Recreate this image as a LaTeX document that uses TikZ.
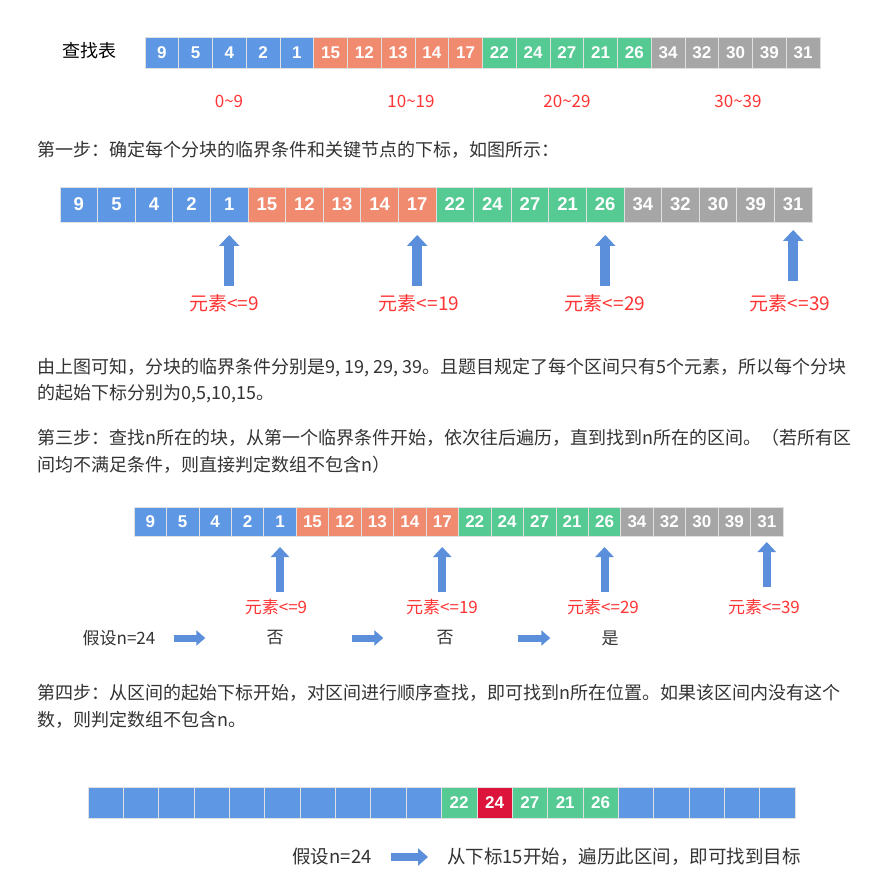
\documentclass[tikz,border=0pt]{standalone}
\usepackage{fontspec}
\setmainfont{Noto Sans CJK SC}
\newfontfamily\numfont{Liberation Sans}
\usetikzlibrary{arrows.meta, positioning}

\definecolor{blueC}{HTML}{5E97E4}
\definecolor{orangeC}{HTML}{F08B70}
\definecolor{greenC}{HTML}{56CA93}
\definecolor{grayC}{HTML}{A6A6A6}
\definecolor{redC}{HTML}{DC143C}
\definecolor{arrowC}{HTML}{5B8FDB}
\definecolor{labelC}{HTML}{FF3535}
\definecolor{textC}{HTML}{333333}

\begin{document}
\begin{tikzpicture}[x=1pt, y=-1pt]
		\tikzstyle{Cell} = [rectangle, inner sep=0pt, outer sep=0pt, draw=white!88!black, line width=0.7pt, text=white]
		\tikzstyle{Para} = [anchor=west, inner sep=0pt, text=textC, font=\fontsize{18}{18}\selectfont]
		\tikzstyle{Plain} = [inner sep=0pt, text=textC, font=\fontsize{17}{17}\selectfont]
		\tikzstyle{Bound} = [inner sep=0pt, text=labelC]
		\tikzstyle{UpArrow} = [line width=10pt, draw=arrowC, -{Triangle[width=20pt, length=11pt]}]
		\tikzstyle{SmallUp} = [line width=8pt, draw=arrowC, -{Triangle[width=18pt, length=10pt]}]
		\tikzstyle{SideArrow} = [line width=7pt, draw=arrowC, -{Triangle[width=15pt, length=9pt]}]

		\path[use as bounding box, fill=white] (0,0) rectangle (896,890);

		% lookup table, three times
		\foreach \r/\x/\y/\w/\h/\fs in {a/145/37/33.75/31/17, b/60/187/37.6/35/18.5, c/134/507/32.45/29/17}{
			\foreach \c/\vals [count=\k] in {blueC/{9,5,4,2,1}, orangeC/{15,12,13,14,17}, greenC/{22,24,27,21,26}, grayC/{34,32,30,39,31}}{
				\foreach \v [count=\j] in \vals{
					\pgfmathtruncatemacro\n{(\k-1)*5+\j}
					\node (\r\n) [Cell, fill=\c, minimum width=\w pt, minimum height=\h pt, font=\numfont\bfseries\fontsize{\fs}{\fs}\selectfont] at ({\x+(\n-0.5)*\w}, {\y+\h/2}) {\v};
				}
			}
		}

		\node (title) [Para, text=black] at (62,51) {查找表};
		\node (r1) [Bound, font=\fontsize{17}{17}\selectfont] at (229,101) {0\textasciitilde 9};
		\node (r2) [Bound, font=\fontsize{17}{17}\selectfont] at (411,101) {10\textasciitilde 19};
		\node (r3) [Bound, font=\fontsize{17}{17}\selectfont] at (567,101) {20\textasciitilde 29};
		\node (r4) [Bound, font=\fontsize{17}{17}\selectfont] at (738,101) {30\textasciitilde 39};

		\node (p1) [Para] at (37,150) {第一步：确定每个分块的临界条件和关键节点的下标，如图所示：};

		% step one: bounds
		\foreach \n/\t/\x/\a/\b [count=\i] in {5/9/224/8/13, 10/19/419/8/13, 15/29/605/8/13, 20/39/790/13/8}{
			\node (bl\i) [Bound, font=\fontsize{19}{19}\selectfont] at (\x,303) {元素<=\t};
			\draw[UpArrow, shorten <=\a pt, shorten >=\b pt] (bl\i.north -| b\n.south) -- (b\n.south);
		}

		\node (p2a) [Para] at (37,368) {由上图可知，分块的临界条件分别是9, 19, 29, 39。且题目规定了每个区间只有5个元素，所以每个分块};
		\node (p2b) [Para] at (37,394) {的起始下标分别为0,5,10,15。};
		\node (p3a) [Para] at (37,438) {第三步：查找n所在的块，从第一个临界条件开始，依次往后遍历，直到找到n所在的区间。（若所有区};
		\node (p3b) [Para] at (37,465) {间均不满足条件，则直接判定数组不包含n）};

		% step three: bounds
		\foreach \n/\t/\x/\a/\b [count=\i] in {5/9/276/7/11, 10/19/442/7/11, 15/29/603/7/11, 20/39/764/12/6}{
			\node (cl\i) [Bound, font=\fontsize{17}{17}\selectfont] at (\x,607) {元素<=\t};
			\draw[SmallUp, shorten <=\a pt, shorten >=\b pt] (cl\i.north -| c\n.south) -- (c\n.south);
		}

		\node (q1) [Plain] at (119,638) {假设n=24};
		\node (no1) [Plain] at (275,638) {否};
		\node (no2) [Plain] at (445,638) {否};
		\node (yes) [Plain] at (610,638) {是};
		\draw[SideArrow, shorten <=18pt, shorten >=61pt] (q1) -- (no1);
		\draw[SideArrow, shorten <=68pt, shorten >=53pt] (no1) -- (no2);
		\draw[SideArrow, shorten <=64pt, shorten >=51pt] (no2) -- (yes);

		\node (p4a) [Para] at (37,693) {第四步：从区间的起始下标开始，对区间进行顺序查找，即可找到n所在位置。如果该区间内没有这个};
		\node (p4b) [Para] at (37,720) {数，则判定数组不包含n。};

		% step four: search inside the block
		\foreach \n in {1,...,10,16,17,...,20}
			\node (d\n) [Cell, fill=blueC, minimum width=35.35pt, minimum height=31pt] at ({88+(\n-0.5)*35.35}, 802.5) {};
		\foreach \v/\c [count=\j] in {22/greenC, 24/redC, 27/greenC, 21/greenC, 26/greenC}{
			\pgfmathtruncatemacro\n{10+\j}
			\node (d\n) [Cell, fill=\c, minimum width=35.35pt, minimum height=31pt, font=\numfont\bfseries\fontsize{17}{17}\selectfont] at ({88+(\n-0.5)*35.35}, 802.5) {\v};
		}

		\node (q2) [Plain, font=\fontsize{18.5}{18.5}\selectfont] at (332,857) {假设n=24};
		\node (goal) [Para, font=\fontsize{18.5}{18.5}\selectfont] at (447,857) {从下标15开始，遍历此区间，即可找到目标};
		\draw[SideArrow, line width=8pt, -{Triangle[width=17pt, length=10pt]}, shorten <=19pt, shorten >=19pt] (q2) -- (goal);
\end{tikzpicture}
\end{document}
